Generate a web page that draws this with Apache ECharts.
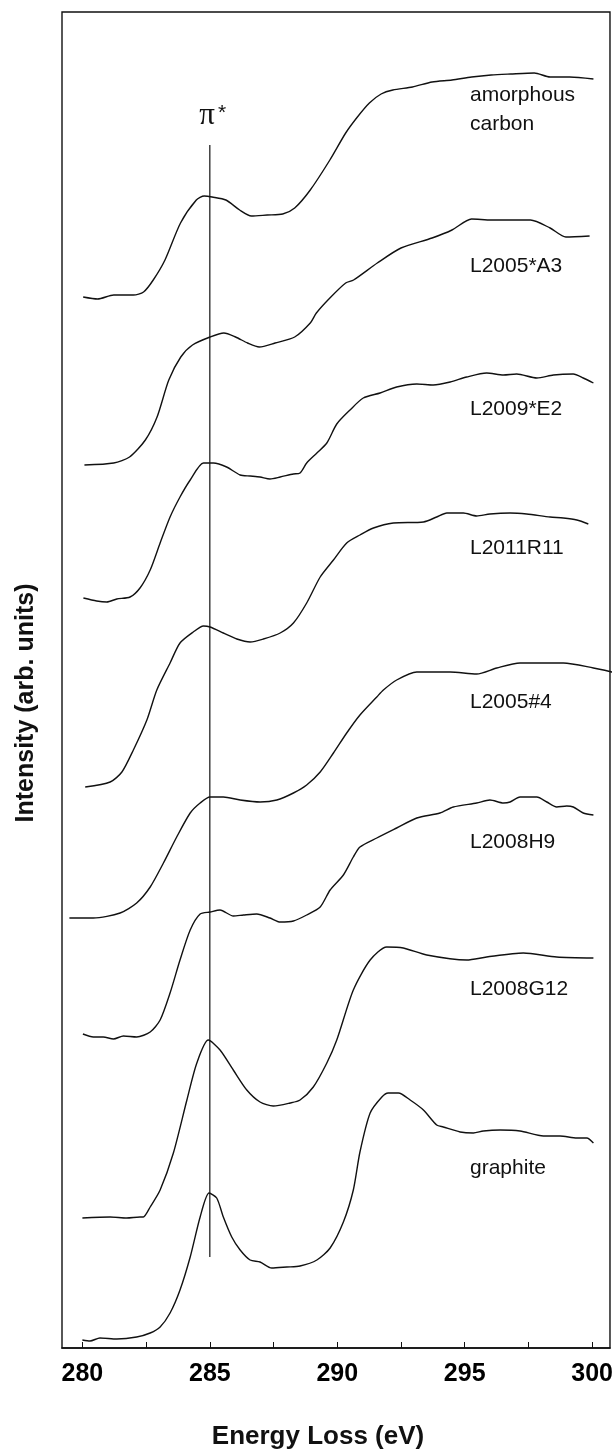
<!DOCTYPE html>
<html>
<head>
<meta charset="utf-8">
<script src="https://cdn.jsdelivr.net/npm/echarts@6/dist/echarts.min.js"></script>
<style>html,body{margin:0;padding:0;background:#fff}#c{width:616px;height:1450px}</style>
</head>
<body>
<div id="c"></div>
<script>
// x: energy loss (eV), y: stacked intensity (arb. units)
var amorphousCarbon = [[280.03,1051],[280.6,1049],[281.23,1053],[282.0,1053],[282.4,1056],[282.78,1068],[283.24,1088],[283.85,1125],[284.47,1148],[284.78,1152],[285.09,1151],[285.63,1148],[286.17,1138],[286.63,1132],[287.25,1133],[287.86,1134],[288.33,1140],[288.94,1158],[289.71,1188],[290.33,1215],[290.79,1231],[291.26,1245],[291.72,1254],[292.18,1258],[292.95,1261],[293.72,1266],[294.5,1268],[295.27,1271],[296.04,1273],[296.8,1274],[297.73,1275],[298.35,1271],[299.12,1271],[300.05,1269]];
var l2005A3 = [[280.08,883],[281.23,885],[281.85,891],[282.47,908],[282.93,931],[283.39,968],[283.86,991],[284.32,1003],[285.01,1011],[285.55,1015],[286.01,1011],[286.48,1005],[286.94,1001],[287.56,1005],[288.33,1011],[288.94,1025],[289.18,1035],[289.71,1050],[290.33,1065],[290.64,1068],[291.57,1085],[292.5,1100],[293.72,1110],[294.5,1118],[295.27,1129],[296.04,1128],[296.8,1128],[297.58,1128],[298.35,1120],[298.97,1111],[299.9,1112]];
var l2009E2 = [[280.04,750],[280.56,747],[280.96,746],[281.35,749],[281.87,751],[282.26,760],[282.66,778],[283.05,805],[283.44,831],[283.83,851],[284.23,868],[284.75,885],[285.14,885],[285.66,881],[286.19,873],[286.58,872],[286.97,871],[287.36,869],[287.76,871],[288.28,874],[288.54,875],[288.8,885],[289.2,895],[289.59,905],[289.98,924],[290.5,938],[291.02,950],[291.68,955],[292.33,961],[293.12,964],[293.77,963],[294.43,966],[295.08,971],[295.86,975],[296.52,973],[297.04,974],[297.83,970],[298.48,973],[299.26,974],[299.65,970],[300.05,965]];
var l2011R11 = [[280.11,561],[281.09,566],[281.55,576],[282.0,598],[282.53,628],[282.92,658],[283.44,685],[283.83,705],[284.35,716],[284.75,722],[285.01,721],[285.53,715],[286.06,709],[286.58,706],[287.1,709],[287.76,715],[288.28,725],[288.8,745],[289.33,771],[289.85,788],[290.37,805],[290.89,813],[291.42,820],[292.2,825],[293.38,826],[293.9,831],[294.3,835],[294.95,835],[295.47,832],[295.99,834],[296.78,835],[297.43,834],[298.35,831],[298.87,830],[299.4,828],[299.85,824]];
var l2005n4 = [[279.49,430],[280.43,430],[281.48,435],[282.13,445],[282.66,461],[283.18,485],[283.7,511],[284.23,535],[284.62,545],[285.01,551],[285.53,551],[286.19,548],[286.97,546],[287.63,548],[288.28,555],[288.8,563],[289.33,576],[289.85,595],[290.37,615],[290.89,633],[291.55,651],[291.81,658],[292.33,668],[293.12,676],[294.43,676],[295.47,674],[296.26,680],[297.17,685],[298.87,685],[300.05,680],[300.77,676],[300.95,673]];
var l2008H9 = [[280.02,314],[280.43,311],[280.82,311],[281.22,309],[281.61,312],[282.13,311],[282.66,316],[283.05,328],[283.44,355],[283.83,388],[284.23,418],[284.62,434],[285.01,436],[285.4,438],[285.92,432],[286.32,433],[286.84,434],[287.36,430],[287.76,426],[288.28,427],[288.8,433],[289.33,441],[289.72,458],[290.24,473],[290.63,491],[290.89,501],[291.55,510],[292.33,520],[293.12,530],[294.03,535],[294.55,541],[295.47,545],[295.99,548],[296.52,545],[296.78,546],[297.17,551],[297.83,551],[298.22,546],[298.61,541],[299.0,542],[299.26,541],[299.65,535],[300.05,533]];
var l2008G12 = [[280.0,130],[281.09,131],[281.74,130],[282.26,131],[282.39,131],[282.66,141],[283.05,158],[283.57,195],[284.1,248],[284.49,285],[284.94,308],[285.4,298],[285.92,278],[286.45,258],[286.97,246],[287.49,242],[288.15,245],[288.54,248],[289.06,261],[289.59,285],[289.98,308],[290.63,358],[291.29,388],[291.94,401],[292.59,400],[293.51,393],[295.08,388],[295.86,391],[297.3,395],[298.61,391],[300.05,390]];
var graphite = [[280.0,8],[280.3,7],[280.69,10],[281.35,9],[282.13,11],[282.66,15],[283.05,21],[283.44,35],[283.83,58],[284.23,91],[284.62,131],[284.97,155],[285.27,150],[285.53,131],[285.86,111],[286.19,98],[286.58,88],[286.97,86],[287.43,80],[288.02,81],[288.54,82],[289.2,88],[289.72,100],[290.24,126],[290.63,158],[290.89,196],[291.29,235],[291.75,251],[292.0,255],[292.4,255],[292.86,248],[293.38,238],[293.9,223],[294.16,221],[294.82,216],[295.34,215],[295.73,217],[296.39,218],[297.17,217],[298.09,212],[298.74,212],[299.4,210],[299.79,210],[300.05,205]];
var piStarLine = [[285,91],[285,1203]];
var tickLabels = [280, 285, 290, 295, 300];
var tickMarks = [280, 282.5, 285, 287.5, 290, 292.5, 295, 297.5, 300];
var seriesNames = ['amorphous carbon','L2005*A3','L2009*E2','L2011R11','L2005#4','L2008H9','L2008G12','graphite'];
var seriesData = [amorphousCarbon, l2005A3, l2009E2, l2011R11, l2005n4, l2008H9, l2008G12, graphite];

var chart = echarts.init(document.getElementById('c'), null, {renderer:'canvas'});
var series = seriesData.map(function(d, i){
  return {
    name: seriesNames[i], type:'line', data:d, symbol:'none', smooth:0.25,
    clip: i !== 4,
    lineStyle:{color:'#111', width:1.4}, silent:true, animation:false
  };
});
series.push({type:'line', data:piStarLine, symbol:'none', lineStyle:{color:'#111', width:1.2}, silent:true, animation:false});

function lbl(text, x, y, opt){
  opt = opt || {};
  return {type:'text', x:x, y:y, rotation:opt.rot||0, style:{text:text, fill:'#111',
    font:(opt.bold?'bold ':'') + (opt.size||21) + 'px "Liberation Sans", Arial, sans-serif',
    textAlign:opt.align||'left', textVerticalAlign:'middle'}, silent:true};
}

chart.setOption({
  animation:false,
  backgroundColor:'#fff',
  grid:{left:62, right:6, top:12, bottom:102, show:true, borderColor:'#111', borderWidth:1.4, backgroundColor:'transparent'},
  xAxis:{type:'value', min:279.2, max:300.7,
    axisLine:{show:true, lineStyle:{color:'#111', width:1.6}},
    axisTick:{show:true, inside:true, length:6, customValues:tickMarks, lineStyle:{color:'#111', width:1}},
    axisLabel:{show:true, customValues:tickLabels, color:'#000', fontSize:25, fontWeight:'bold', fontFamily:'"Liberation Sans", Arial, sans-serif', margin:14},
    splitLine:{show:false}},
  yAxis:{type:'value', min:0, max:1336, show:false, splitLine:{show:false}},
  series:series,
  graphic:[
    lbl('amorphous', 470, 95),
    lbl('carbon', 470, 124),
    lbl('L2005*A3', 470, 266),
    lbl('L2009*E2', 470, 409.5),
    lbl('L2011R11', 470, 548),
    lbl('L2005#4', 470, 702),
    lbl('L2008H9', 470, 842),
    lbl('L2008G12', 470, 989.5),
    lbl('graphite', 470, 1168.5),
    {type:'text', x:207, y:116, style:{text:'π', fill:'#111', font:'31px "Liberation Serif", "DejaVu Serif", serif', textAlign:'center', textVerticalAlign:'middle'}, silent:true},
    {type:'text', x:222, y:113, style:{text:'*', fill:'#111', font:'21px "Liberation Sans", Arial, sans-serif', textAlign:'center', textVerticalAlign:'middle'}, silent:true},
    lbl('Energy Loss (eV)', 318, 1437, {bold:true, size:26, align:'center'}),
    lbl('Intensity (arb. units)', 26, 703, {bold:true, size:25, align:'center', rot:Math.PI/2})
  ]
});
</script>
</body>
</html>
